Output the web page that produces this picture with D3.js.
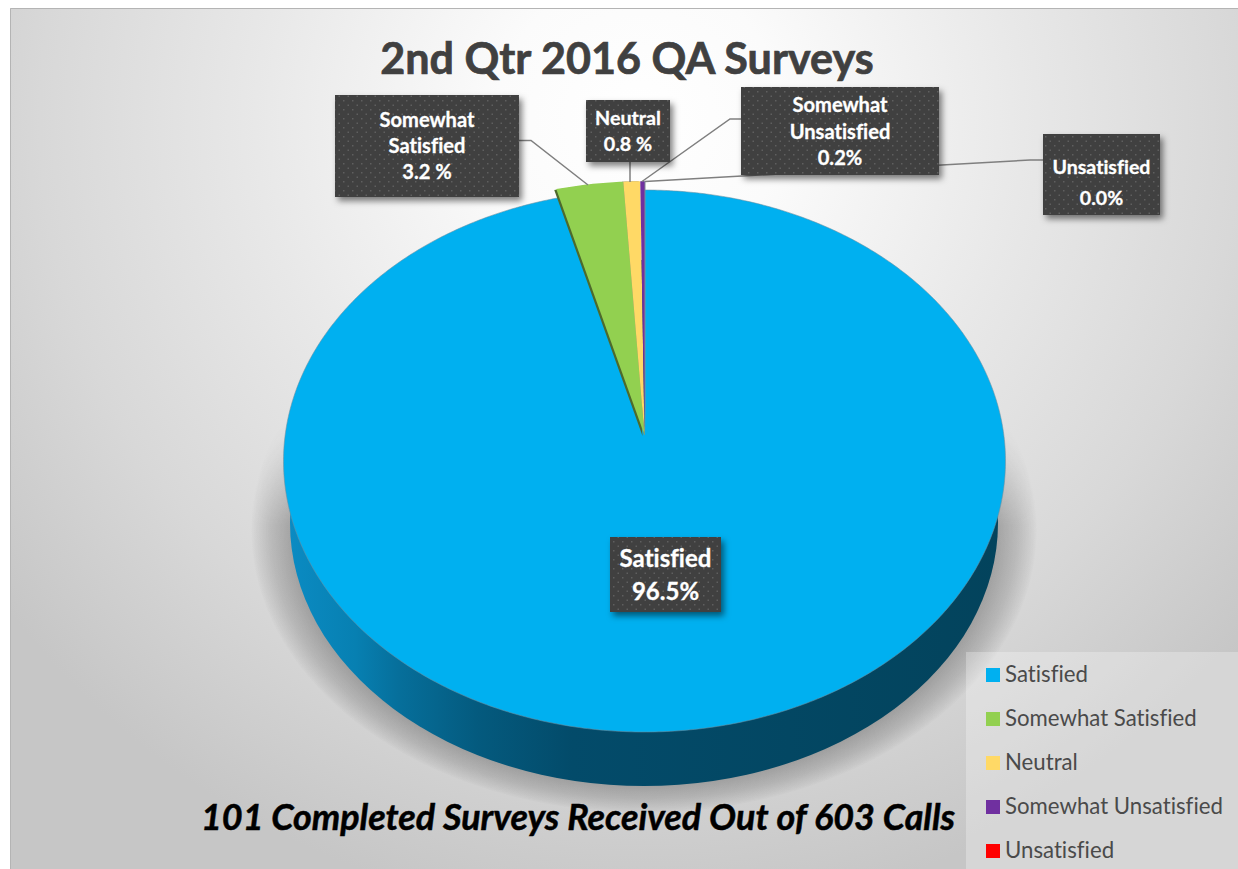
<!DOCTYPE html>
<html><head><meta charset="utf-8">
<script src="https://cdn.jsdelivr.net/npm/d3@7/dist/d3.min.js"></script>
<style>html,body{margin:0;padding:0;background:#fff;overflow:hidden}svg{display:block}text{font-family:Lato,"Open Sans",sans-serif;font-variant-ligatures:none}</style>
</head><body><svg id="c" width="1238" height="869"></svg>
<script>
// ---- data ----
const categories = ["Satisfied","Somewhat Satisfied","Neutral","Somewhat Unsatisfied","Unsatisfied"];
const values = [96.5,3.2,0.8,0.2,0.0];
const valueLabels = ["96.5%","3.2 %","0.8 %","0.2%","0.0%"];
const colors = ["#00B0F0","#92D050","#FFD966","#7030A0","#FF0000"];
const titleText = "2nd Qtr 2016 QA Surveys";
const footerText = "101 Completed Surveys Received Out of 603 Calls";

// ---- layout ----
const W=1238,H=869;
const svg=d3.select("#c");
const defs=svg.append("defs");
const xS=d3.scaleLinear().domain([-1,1]).range([283.5,1005.5]);
const yS=d3.scaleLinear().domain([-1,1]).range([190,732]);
const persp=-0.096, explode=1.036;
// perspective map of the unit circle onto the top-face ellipse
function project(a){
  const x=Math.sin(a),y=-Math.cos(a),d=1+persp*y;
  return [xS(x*Math.sqrt(1-persp*persp)/d),yS((y+persp)/d)];
}
const apex=[xS(0),yS(persp)];
const pie=d3.pie().sort(null).value(d=>d)(values);
const line=d3.line();
function wedge(s,k){
  const n=Math.max(2,Math.ceil((s.endAngle-s.startAngle)/0.01));
  const pts=d3.range(n+1).map(i=>{
    const p=project(s.startAngle+(s.endAngle-s.startAngle)*i/n);
    return [apex[0]+k*(p[0]-apex[0]),apex[1]+k*(p[1]-apex[1])];
  });
  return line([apex,...pts])+"Z";
}
const cvs=document.createElement("canvas").getContext("2d");
cvs.fontVariantLigatures="none";
function fit(txt,weight,style,target){
  cvs.font=`${style} ${weight} 100px Lato`;
  return 100*target/cvs.measureText(txt).width;
}

// gradients, filters
const bg=defs.append("radialGradient").attr("id","bg").attr("gradientUnits","userSpaceOnUse")
  .attr("cx",640).attr("cy",120).attr("r",800);
[[0,"#ffffff"],[.18,"#fbfbfb"],[.48,"#e8e8e8"],[.75,"#d8d8d8"],[1,"#c6c6c6"]].forEach(s=>bg.append("stop").attr("offset",s[0]).attr("stop-color",s[1]));
const wall=defs.append("linearGradient").attr("id","wall").attr("gradientUnits","userSpaceOnUse")
  .attr("x1",283).attr("x2",1005).attr("y1",0).attr("y2",0);
[[0,"#0b8cc4"],[.1,"#0780b2"],[.16,"#066f9b"],[.27,"#045a7e"],[.4,"#034b6a"],[1,"#03435c"]].forEach(s=>wall.append("stop").attr("offset",s[0]).attr("stop-color",s[1]));
const sh=defs.append("radialGradient").attr("id","sh");
[[0,.34],[.9,.34],[.95,.2],[.99,.05],[1,0]].forEach(s=>sh.append("stop").attr("offset",s[0]).attr("stop-color","#3a3a3a").attr("stop-opacity",s[1]));
const fade=defs.append("linearGradient").attr("id","fade").attr("gradientUnits","userSpaceOnUse")
  .attr("x1",0).attr("x2",0).attr("y1",425).attr("y2",525);
[[0,"#000"],[1,"#fff"]].forEach(s=>fade.append("stop").attr("offset",s[0]).attr("stop-color",s[1]));
defs.append("mask").attr("id","shm").attr("maskUnits","userSpaceOnUse").attr("x",0).attr("y",0).attr("width",W).attr("height",H)
  .append("rect").attr("width",W).attr("height",H).attr("fill","url(#fade)");
const bs=defs.append("filter").attr("id","bs").attr("x","-20%").attr("y","-20%").attr("width","140%").attr("height","140%");
bs.append("feDropShadow").attr("dx",3).attr("dy",4).attr("stdDeviation",3).attr("flood-color","#000").attr("flood-opacity",.5);
const pat=defs.append("pattern").attr("id","dots").attr("patternUnits","userSpaceOnUse").attr("width",9).attr("height",9);
pat.append("rect").attr("width",9).attr("height",9).attr("fill","#3f3f3f");
[[1,1],[5.5,5.5]].forEach(p=>pat.append("rect").attr("x",p[0]).attr("y",p[1]).attr("width",1.5).attr("height",1.5).attr("fill","#5e5e5e"));

// background
svg.append("rect").attr("x",10).attr("y",8).attr("width",W-10).attr("height",H-8).attr("fill","url(#bg)");
svg.append("path").attr("d","M10.5 869V8.5H1238").attr("fill","none").attr("stroke","#b4b4b4");

// shadow + side wall
svg.append("g").attr("mask","url(#shm)").append("ellipse").attr("cx",644).attr("cy",530).attr("rx",393).attr("ry",283).attr("fill","url(#sh)");
svg.append("ellipse").attr("cx",644).attr("cy",523).attr("rx",354).attr("ry",263).attr("fill","url(#wall)");

// top face
const g=svg.append("g");
g.append("path").attr("d",wedge(pie[0],1)).attr("fill",colors[0]).attr("stroke","#6f8f9f").attr("stroke-width",.8).attr("stroke-opacity",.7);
g.append("path").attr("d",wedge(pie[1],explode)).attr("transform","translate(-2,1)").attr("fill","#4d6a2c");
g.append("path").attr("d",wedge(pie[2],explode)).attr("transform","translate(-1.5,0)").attr("fill","#8f8a70");
g.append("path").attr("d",wedge(pie[3],explode)).attr("transform","translate(1,0)").attr("fill","#7f8c94");
g.selectAll("path.s").data(pie.slice(1)).join("path").attr("class","s")
  .attr("d",d=>wedge(d,explode)).attr("fill",d=>colors[d.index]);

// leader lines
const leaders=[
  [[519,140.5],[531,140.5],[588,185]],
  [[630,162],[630,182]],
  [[741,119],[730,119],[642,181.5]],
  [[1043,160],[1030,160],[645,181.5]]
];
svg.selectAll("path.l").data(leaders).join("path").attr("class","l").attr("d",d=>line(d))
  .attr("fill","none").attr("stroke","#7f7f7f").attr("stroke-width",1.5);

// data labels
const boxes=[
  {i:0,x:610,y:537,w:111,h:75,base:[567,600],ref:"Satisfied",tw:92},
  {i:1,x:335,y:95,w:184,h:102,base:[127,153,179],ref:"Somewhat",tw:95},
  {i:2,x:586,y:100,w:84,h:62,base:[125,151],ref:"Neutral",tw:66},
  {i:3,x:741,y:87,w:198,h:88,base:[112,139,165],ref:"Somewhat",tw:95},
  {i:4,x:1043,y:134,w:117,h:81,base:[174,205],ref:"Unsatisfied",tw:98}
];
boxes.forEach(b=>{
  const lg=svg.append("g");
  lg.append("rect").attr("x",b.x).attr("y",b.y).attr("width",b.w).attr("height",b.h).attr("fill","url(#dots)").attr("filter","url(#bs)");
  const name=categories[b.i].split(" ");
  const lines=[...name,valueLabels[b.i]];
  const fs=fit(b.ref,700,"normal",b.tw);
  lg.selectAll("text").data(lines).join("text").attr("x",b.x+b.w/2).attr("y",(d,i)=>b.base[i])
    .attr("text-anchor","middle").attr("font-weight",700).attr("font-size",fs).attr("fill","#fff")
    .attr("stroke","#fff").attr("stroke-width",.3).text(d=>d);
});

// title + footer
svg.append("text").attr("x",627).attr("y",74).attr("text-anchor","middle").attr("font-weight",700)
  .attr("font-size",fit(titleText,700,"normal",496)).attr("fill","#404040")
  .attr("stroke","#404040").attr("stroke-width",.7).text(titleText);
svg.append("text").attr("x",201).attr("y",830).attr("font-weight",700).attr("font-style","italic")
  .attr("font-size",fit(footerText,700,"italic",755)).attr("fill","#000")
  .attr("stroke","#000").attr("stroke-width",.5).text(footerText);

// legend
svg.append("rect").attr("x",966).attr("y",652).attr("width",W-966).attr("height",H-652).attr("fill","#fff").attr("fill-opacity",.28);
const legY=d3.scalePoint().domain(categories).range([668,844]);
const legFs=fit("Somewhat Unsatisfied",400,"normal",218);
const li=svg.selectAll("g.li").data(categories).join("g").attr("class","li").attr("transform",d=>`translate(986,${legY(d)})`);
li.append("rect").attr("width",14).attr("height",14).attr("fill",(d,i)=>colors[i]);
li.append("text").attr("x",19).attr("y",14).attr("font-size",legFs).attr("fill","#4a4a4a").text(d=>d);
</script></body></html>
